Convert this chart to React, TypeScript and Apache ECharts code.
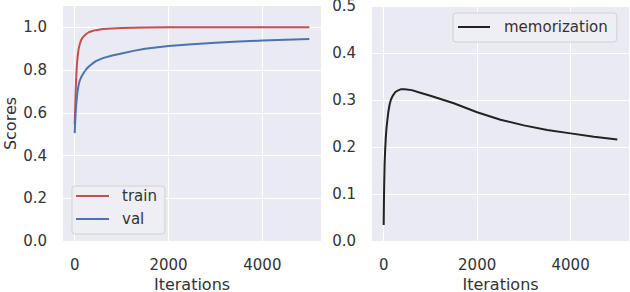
import React, { useEffect, useRef } from "react";
import * as echarts from "echarts";

const iterations = [0, 5, 10, 20, 30, 45, 60, 80, 100, 130, 160, 200, 250, 300, 375, 450, 600, 800, 1000, 1250, 1500, 2000, 2500, 3000, 3500, 4000, 4500, 5000];
const train = [0.545, 0.59, 0.63, 0.7, 0.76, 0.82, 0.86, 0.895, 0.915, 0.937, 0.95, 0.96, 0.97, 0.977, 0.983, 0.987, 0.992, 0.995, 0.997, 0.998, 0.999, 1.0, 1.001, 1.001, 1.001, 1.001, 1.001, 1.001];
const val = [0.505, 0.535, 0.56, 0.6, 0.635, 0.67, 0.7, 0.727, 0.746, 0.763, 0.776, 0.79, 0.805, 0.817, 0.83, 0.842, 0.856, 0.868, 0.878, 0.89, 0.9, 0.913, 0.921, 0.928, 0.934, 0.938, 0.942, 0.946];
const memorization = [0.034, 0.08, 0.116, 0.165, 0.19, 0.22, 0.24, 0.258, 0.275, 0.292, 0.302, 0.31, 0.317, 0.32, 0.323, 0.323, 0.321, 0.315, 0.309, 0.301, 0.293, 0.274, 0.258, 0.246, 0.236, 0.229, 0.222, 0.216];

const xTicks = [0, 2000, 4000];
const yTicksLeft = [0, 0.2, 0.4, 0.6, 0.8, 1.0];
const yTicksRight = [0, 0.1, 0.2, 0.3, 0.4, 0.5];

const FONT = "DejaVu Sans";
const TXT = "#333333";
const BG = "#EAEAF2";

export default function App() {
  const ref = useRef<HTMLDivElement>(null);
  useEffect(() => {
    document.body.style.margin = "0";
    const chart = echarts.init(ref.current!, null, { renderer: "svg" });
    const pair = (ys: number[]) => iterations.map((x, i) => [x, ys[i]]);
    const xAxisBase = (gridIndex: number) => ({
      type: "value",
      gridIndex,
      min: -250,
      max: 5250,
      name: "Iterations",
      nameLocation: "middle",
      nameGap: 27,
      nameTextStyle: { fontFamily: FONT, fontSize: 16, color: TXT, lineHeight: 16 },
      axisLine: { show: false },
      axisTick: { show: false, customValues: xTicks },
      axisLabel: {
        customValues: xTicks,
        fontFamily: FONT,
        fontSize: 15,
        color: TXT,
        margin: 16,
        formatter: (v: number) => String(v),
      },
      splitLine: { show: true, lineStyle: { color: "#ffffff", width: 1 } },
    });
    const yAxisBase = (gridIndex: number, max: number, ticks: number[]) => ({
      type: "value",
      gridIndex,
      min: 0,
      max,
      axisLine: { show: false },
      axisTick: { show: false, customValues: ticks },
      axisLabel: {
        customValues: ticks,
        fontFamily: FONT,
        fontSize: 15,
        color: TXT,
        margin: 16,
        formatter: (v: number) => v.toFixed(1),
      },
      splitLine: { show: true, lineStyle: { color: "#ffffff", width: 1 } },
    });
    const lineSeries = (name: string, ys: number[], idx: number, color: string) => ({
      name,
      type: "line",
      xAxisIndex: idx,
      yAxisIndex: idx,
      data: pair(ys),
      showSymbol: false,
      smooth: false,
      color,
      lineStyle: { width: 2, color },
    });
    chart.setOption({
      animation: false,
      backgroundColor: "#ffffff",
      grid: [
        { left: 63, top: 6, width: 258, height: 235, show: true, backgroundColor: BG, borderWidth: 0, outerBoundsMode: "none", containLabel: false },
        { left: 372, top: 6, width: 257, height: 235, show: true, backgroundColor: BG, borderWidth: 0, outerBoundsMode: "none", containLabel: false },
      ],
      xAxis: [xAxisBase(0), xAxisBase(1)],
      yAxis: [
        {
          ...yAxisBase(0, 1.1, yTicksLeft),
          name: "Scores",
          nameLocation: "middle",
          nameGap: 45,
          nameTextStyle: { fontFamily: FONT, fontSize: 16, color: TXT },
        },
        yAxisBase(1, 0.5, yTicksRight),
      ],
      legend: [
        {
          data: ["train", "val"],
          orient: "vertical",
          left: 72,
          top: 186,
          icon: "rect",
          itemWidth: 33,
          itemHeight: 2,
          itemGap: 7,
          padding: [2, 8, 7, 4],
          backgroundColor: "#EEEEF4",
          borderColor: "#D0D0D6",
          borderWidth: 1,
          borderRadius: 3,
          textStyle: { fontFamily: FONT, fontSize: 15, color: TXT, lineHeight: 16, padding: [0, 0, 0, 8] },
        },
        {
          data: ["memorization"],
          orient: "vertical",
          left: 453,
          top: 13,
          icon: "rect",
          itemWidth: 32,
          itemHeight: 2,
          padding: [6, 9, 7, 5],
          backgroundColor: "#EEEEF4",
          borderColor: "#D0D0D6",
          borderWidth: 1,
          borderRadius: 3,
          textStyle: { fontFamily: FONT, fontSize: 15, color: TXT, lineHeight: 16, padding: [0, 0, 0, 9] },
        },
      ],
      series: [
        lineSeries("train", train, 0, "#C44E52"),
        lineSeries("val", val, 0, "#4C72B0"),
        lineSeries("memorization", memorization, 1, "#222222"),
      ],
    });
    return () => chart.dispose();
  }, []);
  return <div ref={ref} style={{ width: 630, height: 292 }} />;
}
